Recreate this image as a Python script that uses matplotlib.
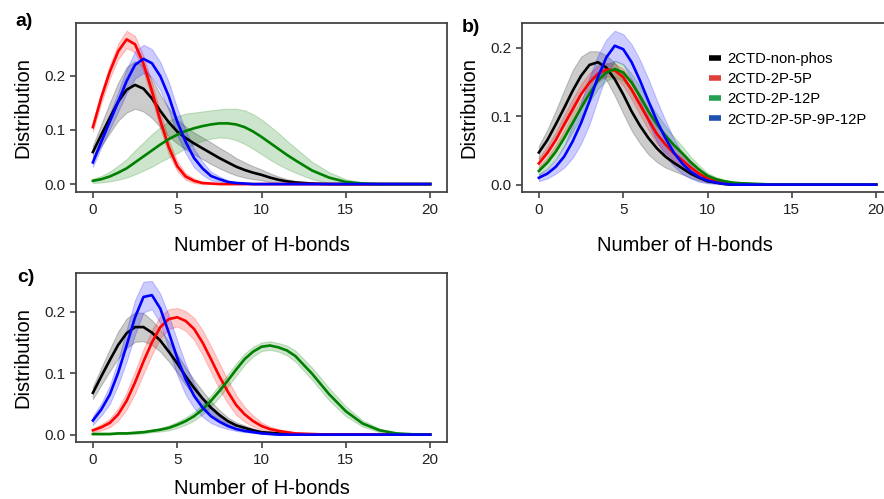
import matplotlib
matplotlib.use("Agg")
import matplotlib.pyplot as plt
from matplotlib.lines import Line2D

plt.rcParams['font.family'] = ['Liberation Sans', 'DejaVu Sans']

# x grid (number of H-bonds)
n_hbonds = [0, 0.5, 1, 1.5, 2, 2.5, 3, 3.5, 4, 4.5, 5, 5.5, 6, 6.5, 7, 7.5, 8, 8.5,
            9, 9.5, 10, 10.5, 11, 11.5, 12, 13, 14, 15, 16, 17, 18, 19, 20]

labels = ["2CTD-non-phos", "2CTD-2P-5P", "2CTD-2P-12P", "2CTD-2P-5P-9P-12P"]
colors = ["black", "red", "green", "blue"]
legend_colors = ["black", "#e0403a", "#22a050", "#2050b0"]

# ---------------- panel a ----------------
a_nonphos = [0.059, 0.091, 0.122, 0.152, 0.174, 0.183, 0.176, 0.158, 0.135, 0.114, 0.097, 0.085,
             0.075, 0.066, 0.057, 0.048, 0.040, 0.032, 0.026, 0.021, 0.017, 0.012, 0.008, 0.005,
             0.003, 0.001, 0, 0, 0, 0, 0, 0, 0]
a_nonphos_sd = [0.012, 0.020, 0.028, 0.035, 0.042, 0.044, 0.042, 0.036, 0.030, 0.026, 0.022, 0.021,
                0.020, 0.020, 0.020, 0.019, 0.018, 0.016, 0.014, 0.012, 0.010, 0.008, 0.006, 0.004,
                0.003, 0.001, 0, 0, 0, 0, 0, 0, 0]
a_2p5p = [0.105, 0.160, 0.207, 0.245, 0.267, 0.258, 0.222, 0.172, 0.117, 0.068, 0.033, 0.014,
          0.006, 0.002, 0.001, 0, 0, 0, 0, 0, 0, 0, 0, 0, 0, 0, 0, 0, 0, 0, 0, 0, 0]
a_2p5p_sd = [0.008, 0.010, 0.012, 0.014, 0.016, 0.015, 0.014, 0.015, 0.015, 0.013, 0.009, 0.006,
             0.004, 0.002, 0.001, 0, 0, 0, 0, 0, 0, 0, 0, 0, 0, 0, 0, 0, 0, 0, 0, 0, 0]
a_2p12p = [0.006, 0.009, 0.014, 0.021, 0.029, 0.040, 0.051, 0.062, 0.073, 0.083, 0.091, 0.098,
           0.103, 0.107, 0.110, 0.112, 0.112, 0.110, 0.105, 0.097, 0.087, 0.076, 0.065, 0.054,
           0.044, 0.025, 0.012, 0.004, 0.001, 0, 0, 0, 0]
a_2p12p_sd = [0.004, 0.006, 0.009, 0.013, 0.017, 0.022, 0.026, 0.030, 0.032, 0.034, 0.034, 0.032,
              0.029, 0.027, 0.026, 0.026, 0.027, 0.029, 0.031, 0.032, 0.032, 0.031, 0.029, 0.026,
              0.023, 0.016, 0.010, 0.005, 0.002, 0.001, 0, 0, 0]
a_all = [0.040, 0.078, 0.115, 0.152, 0.190, 0.220, 0.231, 0.223, 0.199, 0.162, 0.115, 0.078,
         0.048, 0.029, 0.015, 0.009, 0.004, 0.002, 0.001, 0, 0, 0, 0, 0, 0, 0, 0, 0, 0, 0, 0, 0, 0]
a_all_sd = [0.008, 0.010, 0.014, 0.018, 0.022, 0.025, 0.026, 0.026, 0.026, 0.026, 0.025, 0.021,
            0.017, 0.012, 0.008, 0.005, 0.003, 0.001, 0, 0, 0, 0, 0, 0, 0, 0, 0, 0, 0, 0, 0, 0, 0]

# ---------------- panel b ----------------
b_nonphos = [0.047, 0.065, 0.088, 0.112, 0.137, 0.159, 0.175, 0.179, 0.171, 0.154, 0.132, 0.107,
             0.086, 0.068, 0.053, 0.041, 0.032, 0.024, 0.016, 0.010, 0.005, 0.003, 0.001, 0,
             0, 0, 0, 0, 0, 0, 0, 0, 0]
b_nonphos_sd = [0.010, 0.015, 0.020, 0.026, 0.030, 0.028, 0.020, 0.016, 0.018, 0.024, 0.028, 0.028,
                0.026, 0.024, 0.020, 0.016, 0.012, 0.009, 0.006, 0.004, 0.002, 0.001, 0, 0,
                0, 0, 0, 0, 0, 0, 0, 0, 0]
b_2p5p = [0.031, 0.046, 0.065, 0.088, 0.110, 0.132, 0.149, 0.162, 0.168, 0.167, 0.157, 0.139,
          0.117, 0.095, 0.074, 0.059, 0.046, 0.036, 0.025, 0.016, 0.009, 0.005, 0.003, 0.002,
          0.001, 0, 0, 0, 0, 0, 0, 0, 0]
b_2p5p_sd = [0.008, 0.010, 0.012, 0.014, 0.015, 0.015, 0.014, 0.012, 0.010, 0.010, 0.012, 0.014,
             0.015, 0.015, 0.014, 0.012, 0.010, 0.008, 0.006, 0.004, 0.003, 0.002, 0.001, 0,
             0, 0, 0, 0, 0, 0, 0, 0, 0]
b_2p12p = [0.020, 0.032, 0.048, 0.068, 0.090, 0.112, 0.133, 0.152, 0.164, 0.169, 0.164, 0.149,
           0.129, 0.107, 0.088, 0.072, 0.058, 0.046, 0.033, 0.022, 0.013, 0.008, 0.005, 0.003,
           0.002, 0.001, 0, 0, 0, 0, 0, 0, 0]
b_2p12p_sd = [0.006, 0.008, 0.010, 0.012, 0.013, 0.013, 0.012, 0.012, 0.012, 0.012, 0.012, 0.013,
              0.014, 0.015, 0.015, 0.014, 0.012, 0.010, 0.008, 0.006, 0.004, 0.003, 0.002, 0.001,
              0.001, 0, 0, 0, 0, 0, 0, 0, 0]
b_all = [0.010, 0.016, 0.026, 0.041, 0.063, 0.090, 0.122, 0.157, 0.186, 0.203, 0.198, 0.179,
         0.152, 0.122, 0.093, 0.068, 0.047, 0.031, 0.019, 0.011, 0.006, 0.003, 0.001, 0,
         0, 0, 0, 0, 0, 0, 0, 0, 0]
b_all_sd = [0.005, 0.007, 0.010, 0.016, 0.024, 0.030, 0.034, 0.032, 0.026, 0.022, 0.022, 0.026,
            0.030, 0.032, 0.030, 0.026, 0.020, 0.015, 0.010, 0.007, 0.004, 0.002, 0.001, 0,
            0, 0, 0, 0, 0, 0, 0, 0, 0]

# ---------------- panel c ----------------
c_nonphos = [0.068, 0.095, 0.121, 0.146, 0.165, 0.175, 0.175, 0.166, 0.153, 0.135, 0.116, 0.095,
             0.076, 0.059, 0.044, 0.032, 0.022, 0.015, 0.011, 0.007, 0.004, 0.003, 0.002, 0.001,
             0, 0, 0, 0, 0, 0, 0, 0, 0]
c_nonphos_sd = [0.010, 0.014, 0.018, 0.022, 0.024, 0.024, 0.023, 0.020, 0.018, 0.016, 0.015, 0.014,
                0.013, 0.012, 0.010, 0.008, 0.006, 0.005, 0.004, 0.003, 0.002, 0.001, 0, 0,
                0, 0, 0, 0, 0, 0, 0, 0, 0]
c_2p5p = [0.007, 0.012, 0.019, 0.033, 0.055, 0.085, 0.119, 0.150, 0.175, 0.188, 0.191, 0.185,
          0.172, 0.150, 0.123, 0.095, 0.070, 0.048, 0.033, 0.022, 0.014, 0.009, 0.006, 0.004,
          0.002, 0.001, 0, 0, 0, 0, 0, 0, 0]
c_2p5p_sd = [0.003, 0.005, 0.007, 0.010, 0.014, 0.018, 0.020, 0.020, 0.018, 0.016, 0.015, 0.016,
             0.018, 0.020, 0.021, 0.021, 0.019, 0.016, 0.012, 0.009, 0.006, 0.004, 0.003, 0.002,
             0.001, 0, 0, 0, 0, 0, 0, 0, 0]
c_2p12p = [0.001, 0.001, 0.001, 0.002, 0.002, 0.003, 0.004, 0.006, 0.008, 0.011, 0.016, 0.022,
           0.030, 0.041, 0.055, 0.071, 0.088, 0.106, 0.123, 0.135, 0.143, 0.145, 0.142, 0.137,
           0.128, 0.099, 0.066, 0.038, 0.018, 0.007, 0.002, 0.0005, 0]
c_2p12p_sd = [0.001, 0.001, 0.001, 0.001, 0.001, 0.002, 0.002, 0.002, 0.003, 0.004, 0.005, 0.006,
              0.007, 0.008, 0.009, 0.010, 0.010, 0.010, 0.009, 0.008, 0.007, 0.007, 0.007, 0.008,
              0.009, 0.010, 0.010, 0.008, 0.005, 0.003, 0.001, 0, 0]
c_all = [0.023, 0.041, 0.065, 0.101, 0.145, 0.191, 0.224, 0.227, 0.205, 0.166, 0.125, 0.090,
         0.063, 0.044, 0.030, 0.021, 0.014, 0.009, 0.006, 0.004, 0.002, 0.001, 0, 0,
         0, 0, 0, 0, 0, 0, 0, 0, 0]
c_all_sd = [0.007, 0.010, 0.015, 0.020, 0.026, 0.028, 0.025, 0.023, 0.024, 0.028, 0.028, 0.025,
            0.020, 0.015, 0.011, 0.008, 0.005, 0.003, 0.002, 0.001, 0, 0, 0, 0,
            0, 0, 0, 0, 0, 0, 0, 0, 0]

panels = [
    ("a)", [0.086, 0.6146, 0.4197, 0.3393], (24, 22), (0.5, -0.26),
     [(a_nonphos, a_nonphos_sd), (a_2p5p, a_2p5p_sd), (a_2p12p, a_2p12p_sd), (a_all, a_all_sd)]),
    ("b)", [0.5905, 0.6146, 0.4197, 0.3393], (471, 27), (0.44, -0.26),
     [(b_nonphos, b_nonphos_sd), (b_2p5p, b_2p5p_sd), (b_2p12p, b_2p12p_sd), (b_all, b_all_sd)]),
    ("c)", [0.086, 0.1136, 0.4197, 0.3387], (26, 277), (0.5, -0.215),
     [(c_nonphos, c_nonphos_sd), (c_2p5p, c_2p5p_sd), (c_2p12p, c_2p12p_sd), (c_all, c_all_sd)]),
]

fig = plt.figure(figsize=(8.84, 4.99), dpi=100)

for tag, rect, tag_pos, xlab_pos, series in panels:
    ax = fig.add_axes(rect)
    for (mean, sd), col in zip(series, colors):
        lo = [m - s for m, s in zip(mean, sd)]
        hi = [m + s for m, s in zip(mean, sd)]
        ax.fill_between(n_hbonds, lo, hi, color=col, alpha=0.2, lw=0.8)
        ax.plot(n_hbonds, mean, color=col, lw=1.9)

    ax.set_xticks([0, 5, 10, 15, 20])
    ax.set_yticks([0.0, 0.1, 0.2])
    ax.set_yticklabels(["0.0", "0.1", "0.2"])
    ax.tick_params(labelsize=11, length=4, width=1.1, colors="#333333", labelcolor="#222222")
    for sp in ax.spines.values():
        sp.set_color("#444444")
        sp.set_linewidth(1.3)
    ax.set_xlabel("Number of H-bonds", fontsize=14.5)
    ax.xaxis.set_label_coords(*xlab_pos)
    ax.set_ylabel("Distribution", fontsize=14.5, labelpad=9)
    fig.text(tag_pos[0] / 884, 1 - tag_pos[1] / 499, tag, ha="center", va="center",
             fontsize=14, fontweight="bold")

    if tag == "b)":
        handles = [Line2D([], [], color=c, lw=4, solid_capstyle="butt") for c in legend_colors]
        ax.legend(handles, labels, loc="upper left", bbox_to_anchor=(0.505, 0.83),
                  frameon=False, fontsize=10.7, handlelength=0.8, handletextpad=0.4,
                  labelspacing=0.42, borderpad=0, borderaxespad=0)

fig.savefig("out.png", dpi=100)
